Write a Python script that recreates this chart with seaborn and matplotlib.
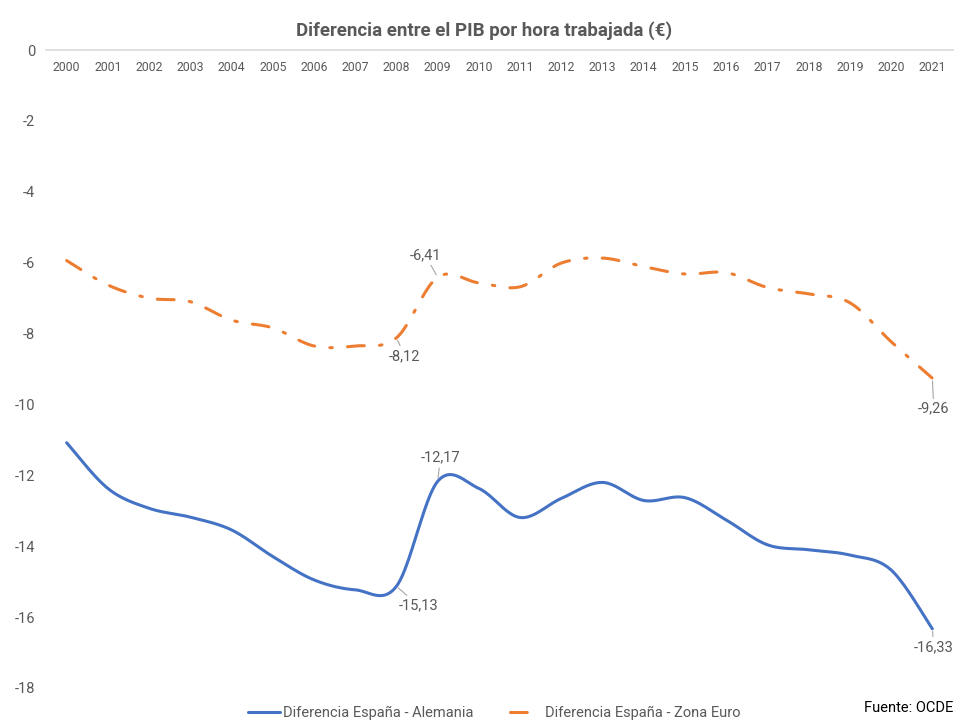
import numpy as np
import pandas as pd
import seaborn as sns
import matplotlib.pyplot as plt

# Datos (OCDE)
years = list(range(2000, 2022))
dif_alemania = [-11.08, -12.37, -12.93, -13.18, -13.54, -14.29, -14.95, -15.23, -15.13, -12.17, -12.37,
                -13.19, -12.65, -12.20, -12.71, -12.63, -13.26, -13.96, -14.10, -14.25, -14.67, -16.33]
dif_zona_euro = [-5.94, -6.63, -7.00, -7.10, -7.62, -7.84, -8.35, -8.35, -8.12, -6.41, -6.57,
                 -6.68, -6.01, -5.87, -6.11, -6.32, -6.28, -6.70, -6.88, -7.13, -8.23, -9.26]
y_ticks = [0, -2, -4, -6, -8, -10, -12, -14, -16, -18]

# etiquetas de datos: (serie, año, desplazamiento en puntos)
etiquetas = [
    ("zona", 2008, (6, -13)),
    ("zona", 2009, (-9, 16)),
    ("zona", 2021, (1, -22)),
    ("alemania", 2008, (16, -14)),
    ("alemania", 2009, (2, 17)),
    ("alemania", 2021, (1, -13)),
]

AZUL = "#4472C4"
NARANJA = "#ED7D31"
GRIS = "#595959"


def suavizar(x, y, n=24):
    """Curva suavizada tipo Excel (Catmull-Rom)."""
    x = np.asarray(x, dtype=float)
    y = np.asarray(y, dtype=float)
    px = np.concatenate([[x[0]], x, [x[-1]]])
    py = np.concatenate([[y[0]], y, [y[-1]]])
    t = np.linspace(0, 1, n, endpoint=False)
    xs, ys = [], []
    for i in range(len(x) - 1):
        for p, out in ((px, xs), (py, ys)):
            p0, p1, p2, p3 = p[i], p[i + 1], p[i + 2], p[i + 3]
            out.append(0.5 * (2 * p1 + (-p0 + p2) * t + (2 * p0 - 5 * p1 + 4 * p2 - p3) * t ** 2
                              + (-p0 + 3 * p1 - 3 * p2 + p3) * t ** 3))
    xs.append([x[-1]])
    ys.append([y[-1]])
    return np.concatenate(xs), np.concatenate(ys)


idx = np.arange(len(years))
xa, ya = suavizar(idx, dif_alemania)
xz, yz = suavizar(idx, dif_zona_euro)
df_a = pd.DataFrame({"x": xa, "y": ya})
df_z = pd.DataFrame({"x": xz, "y": yz})

sns.set_theme(style="white")
plt.rcParams["font.family"] = ["Roboto", "DejaVu Sans"]
plt.rcParams["axes.unicode_minus"] = False

fig = plt.figure(figsize=(9.63, 7.22), dpi=100)
ax = fig.add_axes([0.0478, 0.0471, 0.9418, 0.8836])

sns.lineplot(data=df_a, x="x", y="y", sort=False, estimator=None, ax=ax, color=AZUL,
             linewidth=2.2, label="Diferencia España - Alemania")
sns.lineplot(data=df_z, x="x", y="y", sort=False, estimator=None, ax=ax, color=NARANJA,
             linewidth=2.2, linestyle=(0, (5.5, 5, 0.8, 5)), dash_capstyle="round",
             label="Diferencia España - Zona Euro")

ax.set_xlim(-0.5, len(years) - 0.5)
ax.set_ylim(-18, 0)
ax.set_yticks(y_ticks)
ax.set_yticklabels([str(v) for v in y_ticks])
ax.set_xticks(idx)
ax.set_xticklabels([str(a) for a in years])
ax.set_xlabel("")
ax.set_ylabel("")

# etiquetas de años justo debajo de la línea del cero
ax.xaxis.tick_top()
ax.tick_params(axis="x", length=0, pad=-17, labelsize=8.8, labelcolor=GRIS)
ax.tick_params(axis="y", length=0, pad=8, labelsize=10.5, labelcolor=GRIS)

for lado in ["left", "right", "bottom"]:
    ax.spines[lado].set_visible(False)
ax.spines["top"].set_color("#D9D9D9")
ax.spines["top"].set_linewidth(1.2)

for serie, anio, off in etiquetas:
    valores = dif_alemania if serie == "alemania" else dif_zona_euro
    i = years.index(anio)
    v = valores[i]
    ax.annotate(f"{v:.2f}".replace(".", ","), xy=(i, v), xytext=off, textcoords="offset points",
                ha="center", va="center", fontsize=10.5, color=GRIS,
                arrowprops=dict(arrowstyle="-", color="#A6A6A6", lw=0.8, shrinkA=0, shrinkB=2))

fig.suptitle("Diferencia entre el PIB por hora trabajada (€)", x=0.503, y=0.97,
             fontsize=13.5, fontweight="bold", color=GRIS)

ax.legend(loc="center", bbox_to_anchor=(0.513, 0.012), bbox_transform=fig.transFigure,
          ncol=2, frameon=False, fontsize=10.5, labelcolor=GRIS, handlelength=2.2,
          handletextpad=0.2, columnspacing=2.5)

fig.text(0.99, 0.02, "Fuente: OCDE", ha="right", va="center", fontsize=10.5, color="black")

fig.savefig("out.png", dpi=100)
